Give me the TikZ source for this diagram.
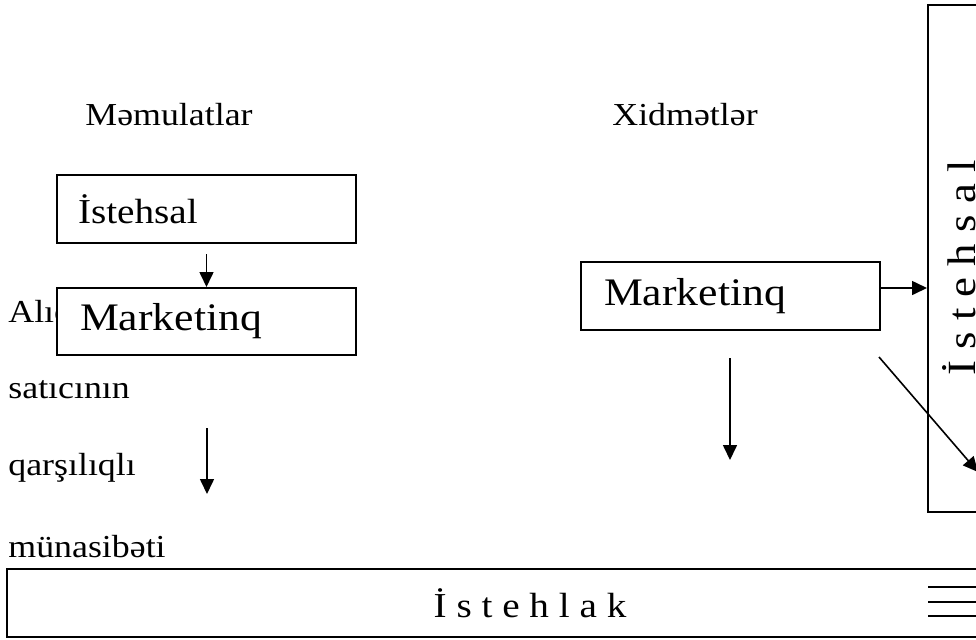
\documentclass[tikz,border=0pt]{standalone}
\usepackage{fontspec}
\setmainfont{Liberation Serif}[FakeStretch=1.12]
\usetikzlibrary{arrows.meta, calc}

\tikzset{
  box/.style={draw, line width=1pt, rectangle, fill=white, inner ysep=0pt},
  leftbox/.style={box, align=left, minimum height=34pt},
  arr/.style={line width=0.8pt, -{Triangle[length=7.5pt,width=7pt]}},
  sidetext/.style={anchor=base west, inner sep=0pt, font=\fontsize{16}{19}\selectfont},
}

\begin{document}
\begin{tikzpicture}[x=0.5pt,y=-0.5pt]
	\useasboundingbox (0,0) rectangle (976,639);
	% headings
	\node (memul) [sidetext] at (85,125) {Məmulatlar};
	\node (xidmet) [sidetext] at (612,125) {Xidmətlər};
	% left column
	\node (alici) [sidetext] at (8,322) {Alıcı və};
	\node (satici) [sidetext] at (8,398) {satıcının};
	\node (qarsi) [sidetext] at (8,475) {qarşılıqlı};
	\node (munasib) [sidetext] at (8,557) {münasibəti};
	% boxes
	\node (istL) [leftbox, inner xsep=10.5pt, text width=128.5pt,
		font=\fontsize{17.5}{21}\selectfont] at (206.5,209) {İstehsal};
	\node (markL) [leftbox, inner xsep=11.5pt, text width=126.5pt, minimum height=33.5pt,
		font=\fontsize{19.5}{23}\selectfont] at (206.5,321.5) {Marketinq};
	\node (markR) [leftbox, inner xsep=11.5pt, text width=126.5pt,
		font=\fontsize{19.5}{23}\selectfont] at (730.5,296) {Marketinq};
	\node (istR) [box, minimum width=29pt, minimum height=253.5pt] at (957,258.5) {};
	\node (istRtxt) [rotate=90, inner sep=0pt, font=\fontsize{20}{24}\selectfont]
		at (959,268) {İ s t e h s a l};
	\node (istehlak) [box, minimum width=523pt, minimum height=34pt,
		font=\fontsize{17.5}{21}\selectfont] at (530,603) {İ s t e h l a k};
	% short lines, lower right
	\draw[line width=1pt] (928,569) -- (980,569);
	\foreach \y in {587,602,616}{
		\draw[line width=1pt] (928,\y) -- (980,\y);
	}
	% arrows
	\coordinate (q1) at (207,428);
	\coordinate (q2) at (207,494);
	\coordinate (d1) at (730,358);
	\coordinate (d2) at (730,460);
	\coordinate (g1) at (879,357);
	\coordinate (g2) at (978,472);
	\draw[arr] ([yshift=-5pt]istL.south) -- (markL.north);
	\draw[arr] (q1) -- (q2);
	\draw[arr] ([yshift=4pt]markR.east) -- ([yshift=4pt]markR.east -| istR.west);
	\draw[arr] (d1) -- (d2);
	\draw[arr] (g1) -- (g2);
\end{tikzpicture}
\end{document}
